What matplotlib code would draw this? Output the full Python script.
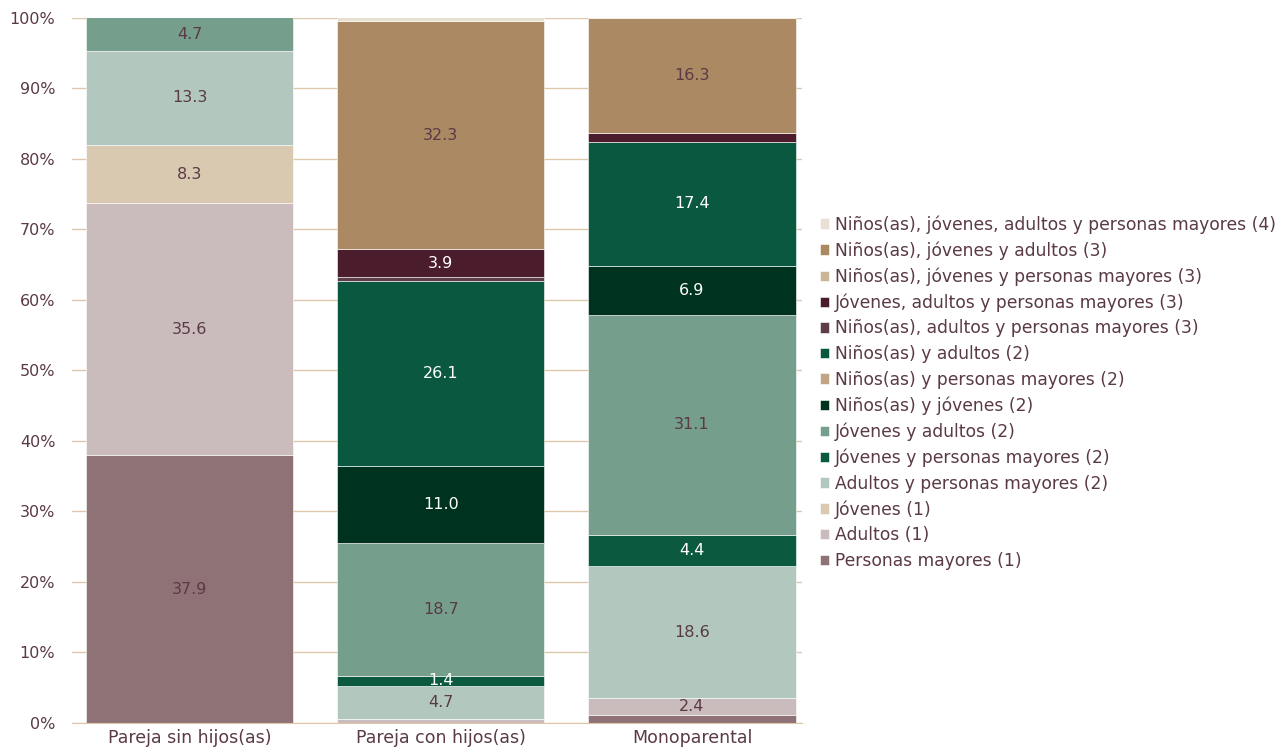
import matplotlib
matplotlib.use("Agg")
import matplotlib.pyplot as plt
import numpy as np

plt.rcParams['font.family'] = ['DejaVu Sans']

categories = ["Pareja sin hijos(as)", "Pareja con hijos(as)", "Monoparental"]

# Household composition groups, bottom of the stack first
groups = [
    "Personas mayores (1)",
    "Adultos (1)",
    "Jóvenes (1)",
    "Adultos y personas mayores (2)",
    "Jóvenes y personas mayores (2)",
    "Jóvenes y adultos (2)",
    "Niños(as) y jóvenes (2)",
    "Niños(as) y personas mayores (2)",
    "Niños(as) y adultos (2)",
    "Niños(as), adultos y personas mayores (3)",
    "Jóvenes, adultos y personas mayores (3)",
    "Niños(as), jóvenes y personas mayores (3)",
    "Niños(as), jóvenes y adultos (3)",
    "Niños(as), jóvenes, adultos y personas mayores (4)",
]

# Percent of households per group, one value per category
personas_mayores = [37.9, 0.0, 1.1]
adultos = [35.6, 0.6, 2.4]
jovenes = [8.3, 0.0, 0.0]
adultos_pm = [13.3, 4.7, 18.6]
jovenes_pm = [0.0, 1.4, 4.4]
jovenes_adultos = [4.7, 18.7, 31.1]
ninos_jovenes = [0.0, 11.0, 6.9]
ninos_pm = [0.0, 0.0, 0.0]
ninos_adultos = [0.0, 26.1, 17.4]
ninos_adultos_pm = [0.0, 0.6, 0.0]
jovenes_adultos_pm = [0.0, 3.9, 1.3]
ninos_jovenes_pm = [0.0, 0.0, 0.0]
ninos_jovenes_adultos = [0.0, 32.3, 16.3]
todos = [0.0, 0.5, 0.0]

series = [personas_mayores, adultos, jovenes, adultos_pm, jovenes_pm,
          jovenes_adultos, ninos_jovenes, ninos_pm, ninos_adultos,
          ninos_adultos_pm, jovenes_adultos_pm, ninos_jovenes_pm,
          ninos_jovenes_adultos, todos]

colors = ["#8f7276", "#cabcbc", "#dac9b1", "#b2c8be", "#0b5a40",
          "#759e8c", "#00331f", "#c2a585", "#09583f", "#5e3d4a",
          "#4a1c2c", "#cbb597", "#ab8a63", "#e8e0d2"]

# Segments that carry white value labels
white_text = {"Jóvenes y personas mayores (2)", "Niños(as) y jóvenes (2)",
              "Niños(as) y adultos (2)", "Jóvenes, adultos y personas mayores (3)"}

text_color = "#5a3a45"
grid_color = "#dcc7aa"

# 100% stacked: each column is scaled to its own total
data = np.array(series, dtype=float)
totals = data.sum(axis=0)
shares = data / totals * 100

fig = plt.figure(figsize=(12.85, 7.51), dpi=100)
ax = fig.add_axes([72 / 1285, 28 / 751, 730 / 1285, 705.5 / 751])

x = np.arange(len(categories))
width = 0.825
bottom = np.zeros(len(categories))
handles = []
for name, vals, shr, col in zip(groups, data, shares, colors):
    bars = ax.bar(x, shr, width, bottom=bottom, color=col, edgecolor="white",
                  linewidth=0.4, label=name, zorder=2)
    handles.append(bars)
    for xi, v, s, b in zip(x, vals, shr, bottom):
        if v >= 1.4:
            ax.text(xi, b + s / 2, f"{v:.1f}", ha="center", va="center",
                    fontsize=11.5,
                    color="white" if name in white_text else text_color,
                    zorder=3)
    bottom += shr

ax.set_xlim(-0.468, 2.438)
ax.set_ylim(0, 100)
ax.set_yticks(np.arange(0, 101, 10))
ax.set_yticklabels([f"{t}%" for t in range(0, 101, 10)])
ax.yaxis.grid(True, color=grid_color, linewidth=1.0, zorder=0)
ax.set_axisbelow(True)
for s in ax.spines.values():
    s.set_visible(False)
ax.spines["bottom"].set_visible(True)
ax.spines["bottom"].set_color(grid_color)
ax.tick_params(axis="y", length=0, pad=12, labelsize=11.5, labelcolor=text_color)
ax.tick_params(axis="x", length=0, pad=4, labelsize=12.5, labelcolor=text_color)
ax.set_xticks(x)
ax.set_xticklabels(categories)

leg = fig.legend(handles[::-1], groups[::-1], loc="upper left",
                 bbox_to_anchor=(820 / 1285, 1 - 215 / 751),
                 frameon=False, fontsize=12.3, handlelength=0.55,
                 handleheight=0.55, handletextpad=0.3, labelspacing=0.445,
                 borderpad=0, borderaxespad=0)
for t in leg.get_texts():
    t.set_color(text_color)

fig.savefig("out.png", dpi=100)
